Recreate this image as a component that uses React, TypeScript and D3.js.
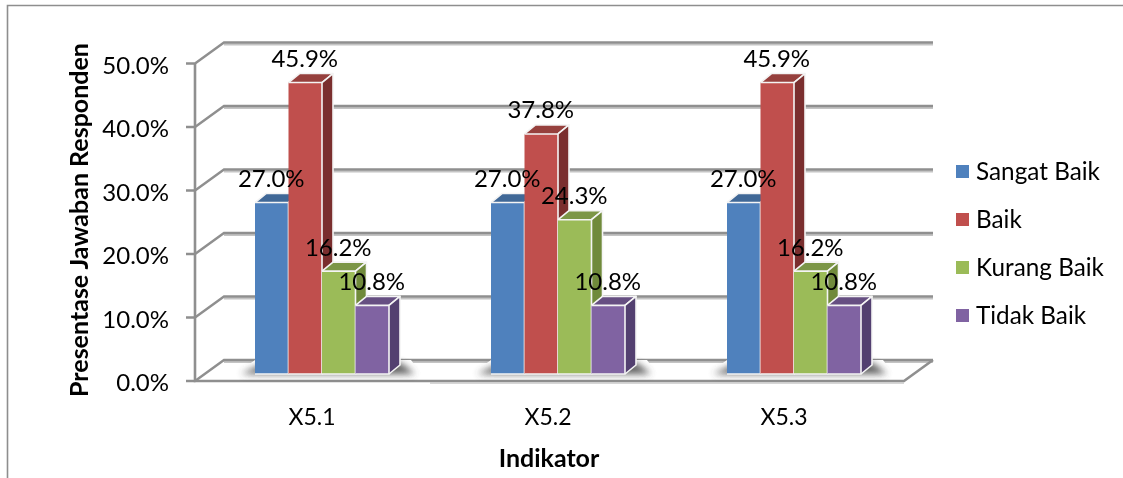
import * as d3 from "d3";

const categories = ["X5.1", "X5.2", "X5.3"];
const seriesNames = ["Sangat Baik", "Baik", "Kurang Baik", "Tidak Baik"];
const sangatBaik = [27.0, 27.0, 27.0];
const baik = [45.9, 37.8, 45.9];
const kurangBaik = [16.2, 24.3, 16.2];
const tidakBaik = [10.8, 10.8, 10.8];
const yTicks = [0, 10, 20, 30, 40, 50];

const seriesValues = [sangatBaik, baik, kurangBaik, tidakBaik];
const frontColors = ["#4f81bd", "#c0504d", "#9bbb59", "#8064a2"];
const sideColors = ["#385d8a", "#7a2f2d", "#6f8a3a", "#523f6f"];
const topColors = ["#3f6797", "#963f3c", "#7c9647", "#664f82"];

const font = "Lato, 'Open Sans', sans-serif";
const grey = "#8f8f8f";

const width = 1123;
const height = 478;

// front plane of the axis box, and how far back the wall sits
const floorY = 381;
const axisX = 195;
const backDx = 29;
const backDy = -21;
const rightX = 904;
// bars stand a bit in front of the wall
const barBase = 374;
const depthDx = 11;
const depthDy = -9;
const clusterWidth = 134;

const yWall = d3.scaleLinear().domain([0, 50]).range([floorY, floorY - 317.5]);
const yBar = d3.scaleLinear().domain([0, 50]).range([barBase, barBase - 317.5]);

const xGroup = d3
  .scaleBand<string>()
  .domain(categories)
  .range([194, 902]);
const xBar = d3
  .scaleBand<string>()
  .domain(seriesNames)
  .range([0, clusterWidth]);

// the cluster sits a little left of the category centre
const clusterX = (c: string) => xGroup(c)! + xGroup.bandwidth() / 2 - 57;

const poly = d3.line();
const legendY = d3.scalePoint<string>().domain(seriesNames).range([171, 315]);

const Bar = ({ x, value, s }: { x: number; value: number; s: number }) => {
  const w = xBar.bandwidth();
  const top = yBar(value);
  const front: [number, number][] = [
    [x, top],
    [x + w, top],
    [x + w, barBase],
    [x, barBase],
  ];
  const side: [number, number][] = [
    [x + w, top],
    [x + w + depthDx, top + depthDy],
    [x + w + depthDx, barBase + depthDy],
    [x + w, barBase],
  ];
  const cap: [number, number][] = [
    [x, top],
    [x + depthDx, top + depthDy],
    [x + w + depthDx, top + depthDy],
    [x + w, top],
  ];
  return (
    <g stroke="#f4f4f4" strokeWidth={1.6} strokeLinejoin="round">
      <path d={poly(cap) ?? undefined} fill={topColors[s]} />
      <path d={poly(side) ?? undefined} fill={sideColors[s]} />
      <path d={poly(front) ?? undefined} fill={frontColors[s]} />
    </g>
  );
};

export default function App() {
  return (
    <svg
      width={width}
      height={height}
      viewBox={`0 0 ${width} ${height}`}
      style={{ position: "absolute", left: 0, top: 0, background: "#fff" }}
    >
      <defs>
        <filter id="soft" x="-20%" y="-100%" width="140%" height="300%">
          <feGaussianBlur stdDeviation="3.5" />
        </filter>
        <filter id="blur" x="-5%" y="-5%" width="110%" height="110%">
          <feGaussianBlur stdDeviation="0.45" />
        </filter>
      </defs>

      {/* page frame */}
      <path d="M7.5 478V5.5H1123" fill="none" stroke="#8e8e8e" strokeWidth={1.6} />

      <g filter="url(#blur)">
        {/* gridlines: tick, diagonal on the side wall, back wall line */}
        {yTicks.map((t) => {
          const y = yWall(t);
          return (
            <g key={t} fill="none">
              <path
                d={`M${axisX + backDx} ${y + backDy + 2}H933`}
                stroke="#c4c4c4"
                strokeWidth={2}
              />
              <path
                d={`M${axisX - 9} ${y}H${axisX}L${axisX + backDx} ${y + backDy}H933`}
                stroke={grey}
                strokeWidth={2.4}
              />
            </g>
          );
        })}
        {/* vertical axis and floor */}
        <path
          d={`M${axisX} ${yWall(50)}V${floorY}H${rightX}L933 ${floorY + backDy}`}
          fill="none"
          stroke={grey}
          strokeWidth={2.6}
        />
        <path d={`M430 ${floorY + 2}H${rightX}`} stroke="#c8c8c8" strokeWidth={1.5} />

        {/* shadows on the floor */}
        {categories.map((c) => {
          const gx = clusterX(c);
          return (
            <g key={c}>
              <path
                d={`M${gx - 22} ${barBase + 2}H${gx + clusterWidth + 34}L${gx + clusterWidth + 22} ${barBase - 14}H${gx}Z`}
                fill="#fff"
              />
              <path
                d={`M${gx - 14} ${barBase}H${gx + clusterWidth + 26}L${gx + clusterWidth + 12} ${barBase - 11}H${gx + 10}Z`}
                fill="#444"
                opacity={0.85}
                filter="url(#soft)"
              />
            </g>
          );
        })}

        {/* bars */}
        {categories.map((c, i) => (
          <g key={c}>
            {seriesNames.map((name, s) => (
              <Bar
                key={name}
                x={clusterX(c) + xBar(name)!}
                value={seriesValues[s][i]}
                s={s}
              />
            ))}
          </g>
        ))}

        {/* data labels go over every bar */}
        <g fontFamily={font} fontSize={24} fill="#000" textAnchor="middle">
          {categories.map((c, i) =>
            seriesNames.map((name, s) => (
              <text
                key={name}
                x={clusterX(c) + xBar(name)! + xBar.bandwidth() / 2 - 0.5}
                y={yBar(seriesValues[s][i]) - 24}
                dy="0.35em"
              >
                {seriesValues[s][i].toFixed(1)}%
              </text>
            ))
          )}
        </g>

        {/* y tick labels */}
        <g fontFamily={font} fontSize={24} fill="#000" textAnchor="end">
          {yTicks.map((t) => (
            <text key={t} x={169} y={yWall(t) + 2} dy="0.35em">
              {t.toFixed(1)}%
            </text>
          ))}
        </g>

        {/* x tick labels */}
        <g fontFamily={font} fontSize={23} fill="#000" textAnchor="middle">
          {categories.map((c) => (
            <text key={c} x={xGroup(c)! + xGroup.bandwidth() / 2} y={417} dy="0.35em">
              {c}
            </text>
          ))}
        </g>

        {/* axis titles */}
        <text
          x={549}
          y={458}
          dy="0.35em"
          fontFamily={font}
          fontSize={25}
          fontWeight={700}
          textAnchor="middle"
        >
          Indikator
        </text>
        <text
          transform="translate(88,220) rotate(-90)"
          fontFamily={font}
          fontSize={25}
          fontWeight={700}
          textAnchor="middle"
        >
          Presentase Jawaban Responden
        </text>

        {/* legend */}
        {seriesNames.map((name, s) => (
          <g key={name}>
            <rect
              x={956}
              y={legendY(name)! - 6}
              width={13}
              height={13}
              fill={frontColors[s]}
            />
            <text
              x={976}
              y={legendY(name)!}
              dy="0.35em"
              fontFamily={font}
              fontSize={24.3}
            >
              {name}
            </text>
          </g>
        ))}
      </g>
    </svg>
  );
}
